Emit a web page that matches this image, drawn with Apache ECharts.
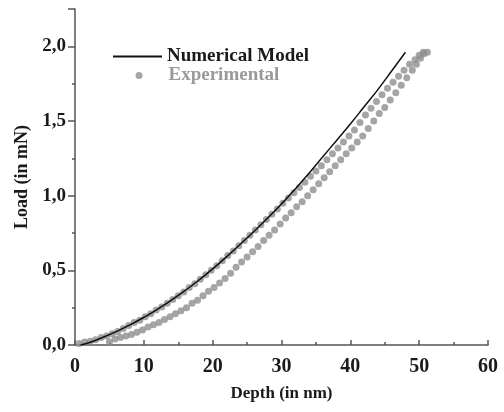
<!DOCTYPE html>
<html>
<head>
<meta charset="utf-8">
<script src="https://cdn.jsdelivr.net/npm/echarts@6/dist/echarts.min.js"></script>
<style>
html,body{margin:0;padding:0;background:#fff;}
#chart{width:504px;height:412px;}
</style>
</head>
<body>
<div id="chart"></div>
<script>
// Numerical model curve: [depth (nm), load (mN)]
var modelCurve = [
  [0.8,0],[2,0.015],[4,0.05],[6,0.09],[8,0.135],[10,0.185],[12,0.24],[14,0.3],
  [16,0.365],[18,0.435],[20,0.51],[22,0.59],[24,0.675],[26,0.76],[28,0.85],[30,0.945],
  [32,1.045],[34,1.15],[36,1.26],[38,1.37],[40,1.48],[42,1.595],[44,1.71],[46,1.835],[48,1.96]
];
// Experimental points, upper branch
var expUpper = [
  [0.6,0.01],[1.4,0.02],[2.2,0.025],[3.0,0.035],[3.8,0.05],[4.6,0.06],[5.4,0.075],[6.2,0.09],
  [7.0,0.11],[7.8,0.13],[8.6,0.15],[9.4,0.165],[10.2,0.19],[11.0,0.21],[11.8,0.235],[12.6,0.255],
  [13.4,0.28],[14.2,0.305],[15.0,0.33],[15.8,0.355],[16.6,0.385],[17.4,0.41],[18.2,0.44],[19.0,0.47],
  [19.8,0.5],[20.6,0.53],[21.4,0.565],[22.2,0.6],[23.0,0.63],[23.8,0.665],[24.6,0.7],[25.4,0.735],
  [26.2,0.77],[27.0,0.805],[27.8,0.84],[28.6,0.875],[29.4,0.91],[30.2,0.95],[31.0,0.985],[31.8,1.02],
  [32.6,1.055],[33.4,1.09],[34.2,1.13],[35.0,1.165],[35.8,1.2],[36.6,1.24],[37.4,1.28],[38.2,1.32],
  [39.0,1.36],[39.8,1.4],[40.6,1.44],[41.4,1.49],[42.2,1.54],[43.0,1.585],[43.8,1.63],[44.6,1.675],
  [45.4,1.72],[46.2,1.76],[47.0,1.8],[47.8,1.84],[48.6,1.88],[49.4,1.91],[50.0,1.94],[50.6,1.96],[51.2,1.96]
];
// Experimental points, lower branch
var expLower = [
  [5.0,0.02],[5.8,0.04],[6.6,0.05],[7.4,0.06],[8.2,0.07],[9.0,0.085],[9.8,0.1],[10.6,0.12],
  [11.4,0.135],[12.2,0.15],[13.0,0.17],[13.8,0.19],[14.6,0.21],[15.4,0.23],[16.2,0.25],[17.0,0.28],
  [17.8,0.3],[18.6,0.33],[19.4,0.36],[20.2,0.385],[21.0,0.415],[21.8,0.445],[22.6,0.48],[23.4,0.52],
  [24.2,0.555],[25.0,0.59],[25.8,0.625],[26.6,0.66],[27.4,0.7],[28.2,0.735],[29.0,0.77],[29.8,0.81],
  [30.6,0.85],[31.4,0.885],[32.2,0.925],[33.0,0.96],[33.8,1.0],[34.6,1.04],[35.4,1.08],[36.2,1.12],
  [37.0,1.16],[37.8,1.2],[38.6,1.24],[39.4,1.28],[40.2,1.32],[41.0,1.36],[41.8,1.4],[42.6,1.45],
  [43.4,1.5],[44.2,1.55],[45.0,1.59],[45.8,1.64],[46.6,1.69],[47.4,1.74],[48.2,1.79],[49.0,1.84],
  [49.6,1.88],[50.2,1.92],[50.7,1.95]
];
var xTicks = [0,10,20,30,40,50,60];
var yTicks = [0,0.5,1.0,1.5,2.0];

var FONT = '"Liberation Serif","Times New Roman",serif';
var axisColor = '#555';
var chart = echarts.init(document.getElementById('chart'), null, {renderer:'canvas'});
chart.setOption({
  animation:false,
  backgroundColor:'#fff',
  grid:{left:75,right:16,top:9,bottom:67},
  legend:[
    {data:[{name:'Numerical Model',icon:'rect'}],left:108,top:42,itemWidth:49,itemHeight:2,
     textStyle:{fontFamily:FONT,fontWeight:'bold',fontSize:19,color:'#1a1a1a'}},
    {data:[{name:'Experimental',icon:'circle'}],left:130.5,top:61,itemWidth:7,itemHeight:7,
     textStyle:{fontFamily:FONT,fontWeight:'bold',fontSize:19,color:'#9a9a9a',padding:[0,0,0,21]}}
  ],
  xAxis:{type:'value',min:xTicks[0],max:xTicks[xTicks.length-1],interval:10,
    name:'Depth (in nm)',nameLocation:'middle',nameGap:40,
    nameTextStyle:{fontFamily:FONT,fontWeight:'bold',fontSize:17,color:'#1a1a1a'},
    axisLine:{lineStyle:{color:axisColor,width:1.5}},
    axisTick:{inside:true,length:5,lineStyle:{color:axisColor,width:1.5}},
    minorTick:{show:true,splitNumber:2,length:3,lineStyle:{color:axisColor,width:1.5}},
    splitLine:{show:false},
    axisLabel:{fontFamily:FONT,fontWeight:'bold',fontSize:20,color:'#1a1a1a',margin:12}
  },
  yAxis:{type:'value',min:0,max:2.25,interval:0.5,
    name:'Load (in mN)',nameLocation:'middle',nameGap:43,
    nameTextStyle:{fontFamily:FONT,fontWeight:'bold',fontSize:18,color:'#1a1a1a'},
    axisLine:{show:true,lineStyle:{color:axisColor,width:1.5}},
    axisTick:{show:true,inside:false,length:7,lineStyle:{color:axisColor,width:1.5}},
    minorTick:{show:true,splitNumber:2,length:3,lineStyle:{color:axisColor,width:1.5}},
    splitLine:{show:false},
    axisLabel:{fontFamily:FONT,fontWeight:'bold',fontSize:19,color:'#1a1a1a',margin:9,
      formatter:function(v){
        var ok = yTicks.some(function(t){return Math.abs(t-v)<1e-9;});
        return ok ? v.toFixed(1).replace('.',',') : '';
      }}
  },
  series:[
    {name:'Experimental',type:'scatter',data:expUpper.concat(expLower),symbol:'circle',symbolSize:7,
     itemStyle:{color:'#8e8e8e'},z:2},
    {name:'Numerical Model',type:'line',data:modelCurve,symbol:'none',smooth:true,
     lineStyle:{color:'#111',width:1.5},itemStyle:{color:'#111'},z:3}
  ]
});
</script>
</body>
</html>
